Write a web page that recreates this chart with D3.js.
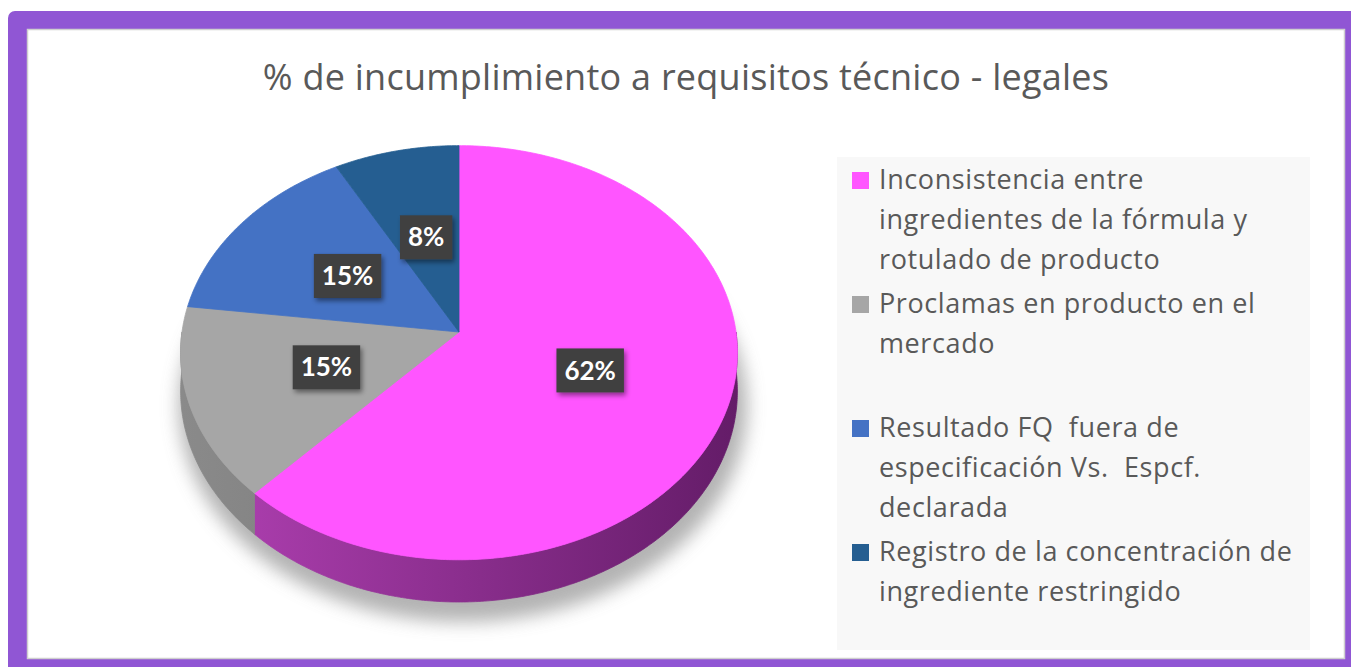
<!DOCTYPE html>
<html>
<head>
<meta charset="utf-8">
<script src="https://cdn.jsdelivr.net/npm/d3@7"></script>
<style>
  body { margin: 0; background: #fff; }
  svg { display: block; }
</style>
</head>
<body>
<div id="chart"></div>
<script>
// Datos
const title = "% de incumplimiento a requisitos técnico - legales";
const categories = [
  "Inconsistencia entre\ningredientes de la fórmula y\nrotulado de producto",
  "Proclamas en producto en el\nmercado\n",
  "Resultado FQ  fuera de\nespecificación Vs.  Espcf.\ndeclarada",
  "Registro de la concentración de\ningrediente restringido"
];
const values = [62, 15, 15, 8];
const topColors = ["#ff55ff", "#a6a6a6", "#4472c4", "#255e91"];
const sideColors = [["#b241b4", "#641c68"], ["#8a8a8a", "#666666"], ["#2f5597", "#1f3f73"], ["#1b466e", "#143553"]];

const width = 1351;
const height = 667;

const svg = d3.select("#chart")
  .append("svg")
  .attr("width", width)
  .attr("height", height);

const defs = svg.append("defs");

// Marco morado
svg.append("rect")
  .attr("x", 8).attr("y", 11)
  .attr("width", width + 20).attr("height", height + 20)
  .attr("rx", 7)
  .attr("fill", "#9056d4");

svg.append("rect")
  .attr("x", 27.5).attr("y", 29.5)
  .attr("width", 1317).attr("height", 629)
  .attr("fill", "#ffffff")
  .attr("stroke", "#cfcfcf")
  .attr("stroke-width", 1.5);

// Titulo
svg.append("text")
  .attr("x", 686)
  .attr("y", 90)
  .attr("text-anchor", "middle")
  .style("font-family", "'Open Sans', Lato, sans-serif")
  .style("font-size", "36px")
  .style("letter-spacing", "0.25px")
  .style("fill", "#595959")
  .text(title);

// Pastel 3D: angulos con d3.pie y proyeccion en perspectiva
const cx = 459, cy = 332, rx = 277, ry = 205, persp = 0.1, depth = 38;

function proj(theta, r = 1, dz = 0) {
  const u = Math.sin(theta) * r;
  const v = -Math.cos(theta) * r;
  const k = 1 / (1 - persp * v);
  return [cx + rx * u * k, cy + (ry * v + dz) * k];
}

function arcPoints(a0, a1, r, dz) {
  const n = Math.max(2, Math.ceil((a1 - a0) / 0.01));
  return d3.range(n + 1).map((i) => proj(a0 + (a1 - a0) * i / n, r, dz));
}

const pie = d3.pie().sort(null).value((d) => d);
const slices = pie(values);
const line = d3.line();

// Sombra
const shadow = defs.append("filter").attr("id", "pieShadow")
  .attr("x", "-20%").attr("y", "-20%").attr("width", "140%").attr("height", "140%");
shadow.append("feGaussianBlur").attr("stdDeviation", 9);

svg.append("path")
  .attr("d", line(arcPoints(0, 2 * Math.PI, 1.02, depth + 6)) + "Z")
  .attr("transform", "translate(4,8)")
  .attr("fill", "#9a9a9a")
  .attr("opacity", 0.75)
  .attr("filter", "url(#pieShadow)");

// Gradientes de los laterales
slices.forEach((s, i) => {
  const g = defs.append("linearGradient")
    .attr("id", "side" + i)
    .attr("gradientUnits", "userSpaceOnUse")
    .attr("x1", cx - rx).attr("x2", cx + rx)
    .attr("y1", 0).attr("y2", 0);
  g.append("stop").attr("offset", "0%").attr("stop-color", sideColors[i][0]);
  g.append("stop").attr("offset", "100%").attr("stop-color", sideColors[i][1]);
});

// Laterales visibles (parte frontal)
svg.append("g")
  .selectAll("path")
  .data(slices.filter((s) => s.endAngle > Math.PI / 2 && s.startAngle < 3 * Math.PI / 2))
  .enter()
  .append("path")
  .attr("d", (s) => {
    const a0 = Math.max(s.startAngle, Math.PI / 2);
    const a1 = Math.min(s.endAngle, 3 * Math.PI / 2);
    const pts = arcPoints(a0, a1, 1, 0).concat(arcPoints(a0, a1, 1, depth).reverse());
    return line(pts) + "Z";
  })
  .attr("fill", (s) => "url(#side" + s.index + ")")
  .attr("stroke", (s) => "url(#side" + s.index + ")")
  .attr("stroke-width", 0.8);

// Caras superiores
svg.append("g")
  .selectAll("path")
  .data(slices)
  .enter()
  .append("path")
  .attr("d", (s) => line([proj(0, 0)].concat(arcPoints(s.startAngle, s.endAngle, 1, 0))) + "Z")
  .attr("fill", (s) => topColors[s.index])
  .attr("stroke", (s) => topColors[s.index])
  .attr("stroke-width", 0.8);

// Etiquetas de datos
const labShadow = defs.append("filter").attr("id", "labShadow")
  .attr("x", "-30%").attr("y", "-30%").attr("width", "160%").attr("height", "160%");
labShadow.append("feDropShadow")
  .attr("dx", 2).attr("dy", 3).attr("stdDeviation", 2.5)
  .attr("flood-color", "#000").attr("flood-opacity", 0.45);

const labels = svg.append("g")
  .selectAll("g")
  .data(slices)
  .enter()
  .append("g")
  .attr("transform", (s) => {
    const p = proj((s.startAngle + s.endAngle) / 2, 0.5, 0);
    return `translate(${p[0]},${p[1]})`;
  });

labels.append("rect").attr("class", "lab-box");
labels.append("text")
  .attr("text-anchor", "middle")
  .attr("dy", "0.35em")
  .style("font-family", "Lato, 'Open Sans', sans-serif")
  .style("font-weight", "bold")
  .style("font-size", "26px")
  .style("fill", "#ffffff")
  .text((s) => `${s.data}%`);

labels.each(function () {
  const g = d3.select(this);
  const w = g.select("text").node().getComputedTextLength();
  g.select("rect")
    .attr("x", -w / 2 - 8)
    .attr("y", -22)
    .attr("width", w + 16)
    .attr("height", 44)
    .attr("fill", "#404040")
    .attr("filter", "url(#labShadow)");
});

// Leyenda
svg.append("rect")
  .attr("x", 837).attr("y", 157)
  .attr("width", 473).attr("height", 493)
  .attr("fill", "#f8f8f8");

const legend = svg.append("g");
const lineH = 40, itemGap = 4;
let yPos = 189;
categories.forEach((name, i) => {
  const lines = name.split("\n");
  legend.append("rect")
    .attr("x", 852)
    .attr("y", yPos - 17)
    .attr("width", 17)
    .attr("height", 17)
    .attr("fill", topColors[i]);
  lines.forEach((t, j) => {
    legend.append("text")
      .attr("x", 879)
      .attr("y", yPos + j * lineH)
      .style("font-family", "'Open Sans', Lato, sans-serif")
      .style("font-size", "27px")
      .style("letter-spacing", "0.6px")
      .style("white-space", "pre")
      .style("fill", "#595959")
      .text(t);
  });
  yPos += lines.length * lineH + itemGap;
});
</script>
</body>
</html>
